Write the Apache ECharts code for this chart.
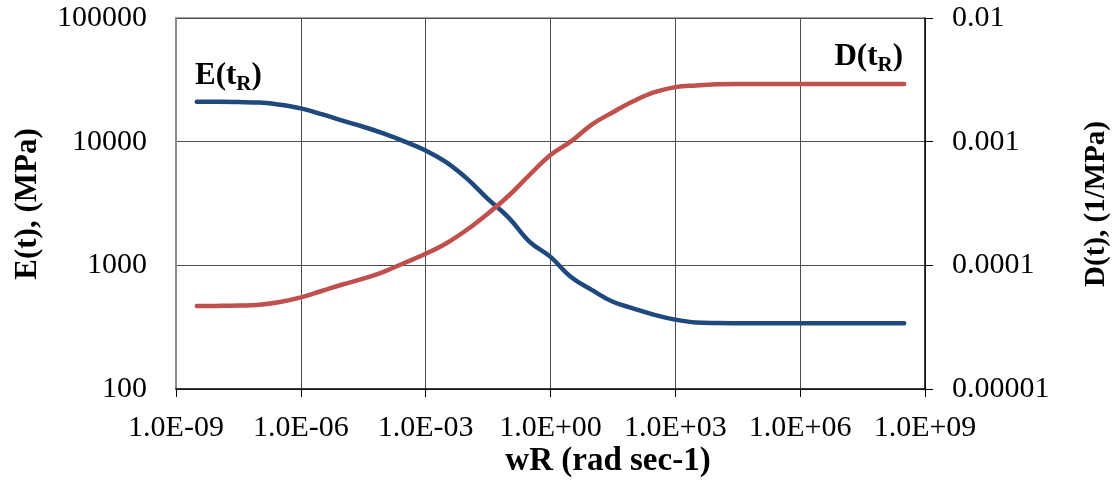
<!DOCTYPE html>
<html>
<head>
<meta charset="utf-8">
<script src="https://cdn.jsdelivr.net/npm/echarts@6/dist/echarts.min.js"></script>
<style>
  html, body { margin: 0; padding: 0; background: #fff; }
  #chart { width: 1114px; height: 486px; }
</style>
</head>
<body>
<div id="chart"></div>
<script>
// Reduced angular frequency (rad/s), half-decade steps
const wR = [
  3.16e-9, 1e-8, 3.16e-8, 1e-7, 3.16e-7, 1e-6, 3.16e-6, 1e-5, 3.16e-5, 1e-4,
  3.16e-4, 1e-3, 3.16e-3, 1e-2, 3.16e-2, 1e-1, 3.16e-1, 1, 3.16, 10,
  31.6, 100, 316, 1e3, 3.16e3, 1e4, 3.16e4, 1e5, 3.16e5, 1e6,
  3.16e6, 1e7, 3.16e7, 1e8, 3.16e8
];

// Relaxation modulus E(t), MPa
const modulusE = [
  21000, 21000, 20900, 20700, 19900, 18600, 16700, 14800, 13200, 11600,
  10000, 8500, 6800, 5000, 3430, 2420, 1550, 1170, 800, 630,
  507, 447, 398, 364, 345, 341, 340, 340, 340, 340,
  340, 340, 340, 340, 340
];

// Creep compliance D(t), 1/MPa
const complianceD = [
  4.69e-5, 4.7e-5, 4.73e-5, 4.8e-5, 5.05e-5, 5.5e-5, 6.2e-5, 7.0e-5, 7.8e-5, 8.9e-5,
  1.05e-4, 1.24e-4, 1.51e-4, 1.95e-4, 2.63e-4, 3.67e-4, 5.4e-4, 7.8e-4, 1.01e-3, 1.38e-3,
  1.73e-3, 2.13e-3, 2.51e-3, 2.76e-3, 2.85e-3, 2.91e-3, 2.93e-3, 2.93e-3, 2.93e-3, 2.93e-3,
  2.93e-3, 2.93e-3, 2.93e-3, 2.93e-3, 2.93e-3
];

const xTickLabels = ['1.0E-09', '1.0E-06', '1.0E-03', '1.0E+00', '1.0E+03', '1.0E+06', '1.0E+09'];
const leftTickLabels = ['100', '1000', '10000', '100000'];
const rightTickLabels = ['0.00001', '0.0001', '0.001', '0.01'];

const FONT = 'Liberation Serif';
const decade = v => Math.round(Math.log10(v));

const tickText = { fontFamily: FONT, fontSize: 30, color: '#000' };
const gridLine = { lineStyle: { color: '#4d4d4d', width: 1 } };

// curve labels with a subscript R
const curveLabelRich = {
  m: { fontFamily: FONT, fontSize: 31, fontWeight: 'bold', fill: '#000', lineHeight: 33, verticalAlign: 'top' },
  s: { fontFamily: FONT, fontSize: 21, fontWeight: 'bold', fill: '#000', lineHeight: 24, verticalAlign: 'top', padding: [14, 0, 0, 0] }
};

const chart = echarts.init(document.getElementById('chart'), null, { renderer: 'canvas' });

chart.setOption({
  animation: false,
  backgroundColor: '#fff',
  grid: { left: 176, right: 189, top: 18, bottom: 97, containLabel: false },
  xAxis: {
    type: 'log', logBase: 10, min: 1e-9, max: 1e9, interval: 3,
    axisLine: { show: true, lineStyle: { color: '#000', width: 1.5 } },
    axisTick: { show: true, length: 8, lineStyle: { color: '#000' } },
    minorTick: { show: false },
    splitLine: { show: true, ...gridLine },
    axisLabel: {
      ...tickText, margin: 24,
      formatter: v => xTickLabels[(decade(v) + 9) / 3]
    }
  },
  yAxis: [
    {
      type: 'log', logBase: 10, min: 100, max: 100000, interval: 1,
      position: 'left',
      axisLine: { show: true, lineStyle: { color: '#8c8c8c', width: 2 } },
      axisTick: { show: false },
      splitLine: { show: true, ...gridLine },
      axisLabel: {
        ...tickText, margin: 29,
        formatter: v => leftTickLabels[decade(v) - 2]
      }
    },
    {
      type: 'log', logBase: 10, min: 1e-5, max: 0.01, interval: 1,
      position: 'right',
      axisLine: { show: true, lineStyle: { color: '#000', width: 1.5 } },
      axisTick: { show: true, length: 8, lineStyle: { color: '#000' } },
      splitLine: { show: false },
      axisLabel: {
        ...tickText, margin: 27,
        formatter: v => rightTickLabels[decade(v) + 5]
      }
    }
  ],
  series: [
    {
      name: 'E(t)', type: 'line', yAxisIndex: 0,
      data: wR.map((w, i) => [w, modulusE[i]]),
      smooth: 0.4, showSymbol: false,
      lineStyle: { color: '#1f497d', width: 4.5, cap: 'round' }
    },
    {
      name: 'D(t)', type: 'line', yAxisIndex: 1,
      data: wR.map((w, i) => [w, complianceD[i]]),
      smooth: 0.4, showSymbol: false,
      lineStyle: { color: '#c0504d', width: 4.5, cap: 'round' }
    }
  ],
  graphic: [
    // top border of the plot frame
    {
      type: 'line', shape: { x1: 176, y1: 18, x2: 925, y2: 18 },
      style: { stroke: '#8c8c8c', lineWidth: 1.5 }, silent: true
    },
    {
      type: 'text', x: 28, y: 204, rotation: Math.PI / 2,
      style: {
        text: 'E(t), (MPa)', fontFamily: FONT, fontSize: 31, fontWeight: 'bold',
        fill: '#000', align: 'center', verticalAlign: 'middle'
      }
    },
    {
      type: 'text', x: 1097, y: 204, rotation: Math.PI / 2,
      style: {
        text: 'D(t), (1/MPa)', fontFamily: FONT, fontSize: 29, fontWeight: 'bold',
        fill: '#000', align: 'center', verticalAlign: 'middle'
      }
    },
    {
      type: 'text', x: 608, y: 461,
      style: {
        text: 'wR (rad sec-1)', fontFamily: FONT, fontSize: 33, fontWeight: 'bold',
        fill: '#000', align: 'center', verticalAlign: 'middle'
      }
    },
    {
      type: 'text', x: 195, y: 60,
      style: { text: '{m|E(t}{s|R}{m|)}', align: 'left', verticalAlign: 'top', rich: curveLabelRich }
    },
    {
      type: 'text', x: 903, y: 41,
      style: { text: '{m|D(t}{s|R}{m|)}', align: 'right', verticalAlign: 'top', rich: curveLabelRich }
    }
  ]
});
</script>
</body>
</html>
